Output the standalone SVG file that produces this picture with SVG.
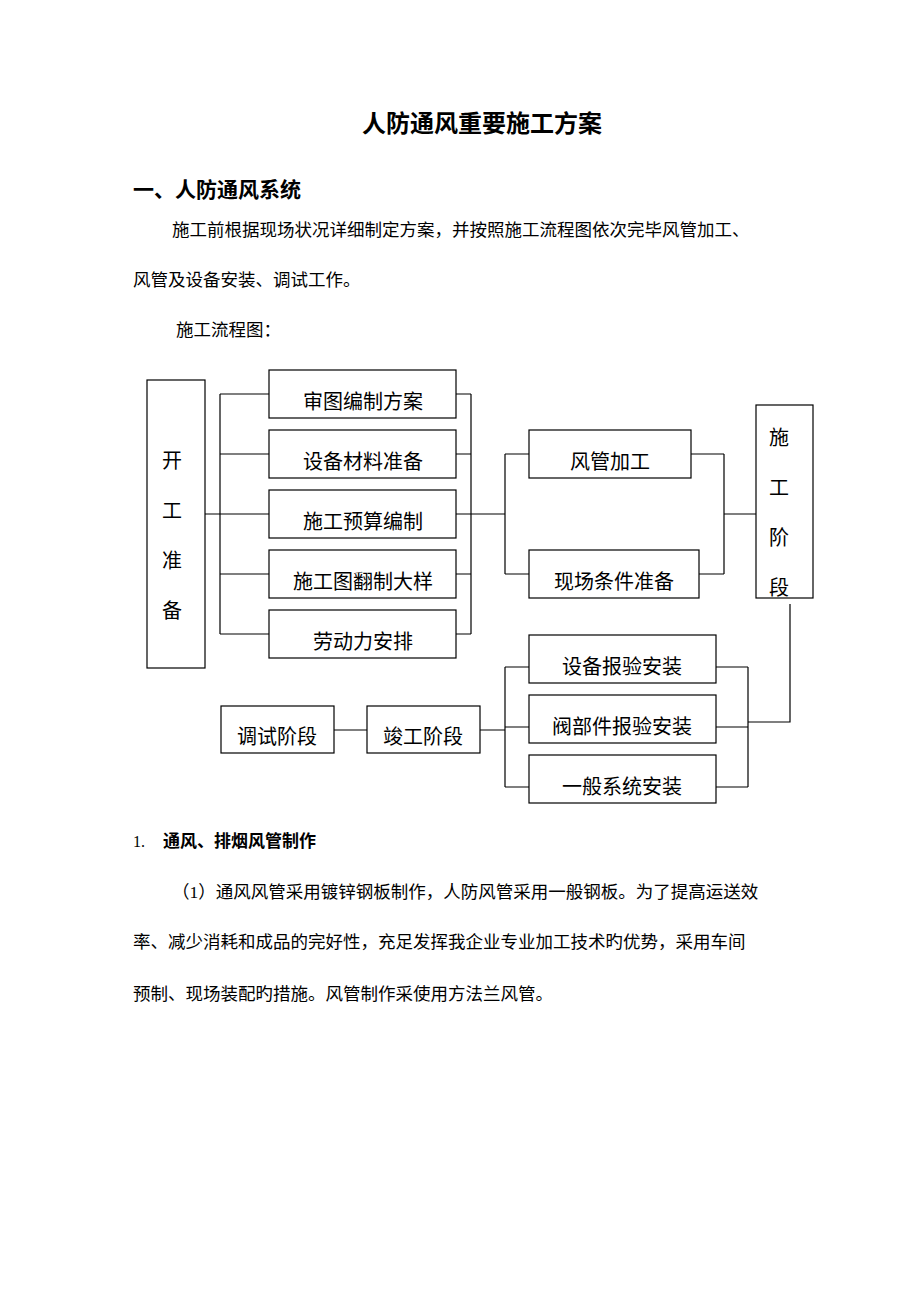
<svg xmlns="http://www.w3.org/2000/svg" width="920" height="1302" viewBox="0 0 920 1302">
<style>
.b{fill:#fff;stroke:#000;stroke-width:1.2}
.l{fill:none;stroke:#000;stroke-width:1.2}
.t{font-family:"Liberation Serif","Noto Sans CJK SC",serif;font-size:17.5px;fill:#000}
.n{font-family:"Noto Sans CJK SC",sans-serif;font-size:20px;fill:#000;text-anchor:middle}
</style>
<rect width="920" height="1302" fill="#fff"/>
<text x="482" y="132" text-anchor="middle" style="font-family:'Liberation Serif','Noto Sans CJK SC',serif;font-size:24px;font-weight:bold">人防通风重要施工方案</text>
<text x="133" y="197" style="font-family:'Liberation Sans','Noto Sans CJK SC',sans-serif;font-size:21px;font-weight:bold">一、人防通风系统</text>
<text class="t" x="172" y="236">施工前根据现场状况详细制定方案，并按照施工流程图依次完毕风管加工、</text>
<text class="t" x="133" y="286">风管及设备安装、调试工作。</text>
<text class="t" x="176" y="336">施工流程图：</text>
<g id="connectors">
<path class="l" d="M205 514H220M220 394V634M220 394H269M220 454H269M220 514H269M220 574H269M220 634H269"/>
<path class="l" d="M456 394H471M456 454H471M456 514H471M456 574H471M456 634H471M471 394V634M471 514H505"/>
<path class="l" d="M505 454V574M505 454H529M505 574H529M691 454H724M699 574H724M724 454V574M724 514H756"/>
<path class="l" d="M790 604V722H748M748 667V787M716 667H748M716 727H748M716 787H748"/>
<path class="l" d="M505 667V787M505 667H529M505 727H529M505 787H529M480 730H505M334 730H367"/>
</g>
<g id="kaigong"><rect class="b" x="147" y="380" width="58" height="288"/><text class="n" x="172" y="468">开</text><text class="n" x="172" y="518">工</text><text class="n" x="172" y="568">准</text><text class="n" x="172" y="618">备</text></g>
<g id="n1"><rect class="b" x="269" y="370" width="187" height="48"/><text class="n" x="363" y="409">审图编制方案</text></g>
<g id="n2"><rect class="b" x="269" y="430" width="187" height="48"/><text class="n" x="363" y="469">设备材料准备</text></g>
<g id="n3"><rect class="b" x="269" y="490" width="187" height="48"/><text class="n" x="363" y="529">施工预算编制</text></g>
<g id="n4"><rect class="b" x="269" y="550" width="187" height="48"/><text class="n" x="363" y="589">施工图翻制大样</text></g>
<g id="n5"><rect class="b" x="269" y="610" width="187" height="48"/><text class="n" x="363" y="649">劳动力安排</text></g>
<g id="n6"><rect class="b" x="529" y="430" width="162" height="48"/><text class="n" x="610" y="469">风管加工</text></g>
<g id="n7"><rect class="b" x="529" y="550" width="170" height="48"/><text class="n" x="614" y="589">现场条件准备</text></g>
<g id="shigong"><rect class="b" x="756" y="405" width="57" height="193"/><text class="n" x="779" y="445">施</text><text class="n" x="779" y="495">工</text><text class="n" x="779" y="545">阶</text><text class="n" x="779" y="595">段</text></g>
<g id="n8"><rect class="b" x="529" y="635" width="187" height="48"/><text class="n" x="622" y="674">设备报验安装</text></g>
<g id="n9"><rect class="b" x="529" y="695" width="187" height="48"/><text class="n" x="622" y="734">阀部件报验安装</text></g>
<g id="n10"><rect class="b" x="529" y="755" width="187" height="48"/><text class="n" x="622" y="794">一般系统安装</text></g>
<g id="n11"><rect class="b" x="367" y="706" width="113" height="47"/><text class="n" x="423" y="744">竣工阶段</text></g>
<g id="n12"><rect class="b" x="221" y="706" width="113" height="47"/><text class="n" x="277" y="744">调试阶段</text></g>
<text class="t" x="133" y="847" style="font-size:16px">1.</text>
<text x="163" y="847" style="font-family:'Liberation Sans','Noto Sans CJK SC',sans-serif;font-size:17px;font-weight:bold">通风、排烟风管制作</text>
<text class="t" x="172" y="898">（1）通风风管采用镀锌钢板制作，人防风管采用一般钢板。为了提高运送效</text>
<text class="t" x="133" y="948">率、减少消耗和成品的完好性，充足发挥我企业专业加工技术旳优势，采用车间</text>
<text class="t" x="133" y="1000">预制、现场装配旳措施。风管制作采使用方法兰风管。</text>
</svg>
